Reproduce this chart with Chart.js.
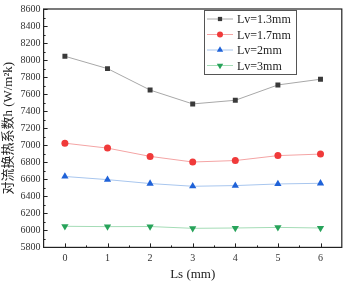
<!DOCTYPE html>
<html>
<head>
<meta charset="utf-8">
<script src="https://cdn.jsdelivr.net/npm/chart.js@4"></script>
<style>
  html, body { margin: 0; padding: 0; background: #fff; }
  #wrap { width: 346px; height: 283px; }
</style>
</head>
<body>
<div id="wrap"><canvas id="chart"></canvas></div>
<script>
const lsLabels = ['0', '1', '2', '3', '4', '5', '6'];
const lv13 = [8045, 7900, 7648, 7485, 7528, 7708, 7775];
const lv17 = [7024, 6966, 6869, 6803, 6820, 6878, 6896];
const lv2 = [6633, 6596, 6550, 6518, 6526, 6545, 6553];
const lv3 = [6048, 6044, 6045, 6024, 6028, 6035, 6028];
const seriesNames = ['Lv=1.3mm', 'Lv=1.7mm', 'Lv=2mm', 'Lv=3mm'];

const serif = '"Liberation Serif", "Times New Roman", "Noto Sans CJK SC", serif';

function ds(name, data, mark, line, style, radius, rot) {
  return {
    label: name,
    data: data,
    borderColor: line,
    backgroundColor: mark,
    pointBackgroundColor: mark,
    pointBorderColor: mark,
    pointBorderWidth: 0,
    pointStyle: style,
    pointRadius: radius,
    pointRotation: rot || 0,
    borderWidth: 1,
    tension: 0
  };
}

// box, inward ticks and legend drawn by hand
const frame = {
  id: 'frame',
  afterDatasetsDraw(chart) {
    const c = chart.ctx, a = chart.chartArea;
    const x = chart.scales.x, y = chart.scales.y;
    c.save();
    c.strokeStyle = '#222';
    c.lineWidth = 1;
    c.beginPath();
    // y ticks
    for (let v = 5800; v <= 8600; v += 100) {
      const py = Math.round(y.getPixelForValue(v)) + 0.5;
      const len = v % 200 === 0 ? 4 : 2;
      c.moveTo(a.left, py); c.lineTo(a.left + len, py);
    }
    // x ticks
    for (let i = 0; i < lsLabels.length; i++) {
      const px = Math.round(x.getPixelForValue(i)) + 0.5;
      c.moveTo(px, a.bottom); c.lineTo(px, a.bottom - 4);
      if (i < lsLabels.length - 1) {
        const hx = Math.round((x.getPixelForValue(i) + x.getPixelForValue(i + 1)) / 2) + 0.5;
        c.moveTo(hx, a.bottom); c.lineTo(hx, a.bottom - 2);
      }
    }
    c.stroke();
    c.lineWidth = 1.2;
    c.strokeRect(a.left, a.top, a.right - a.left, a.bottom - a.top);

    // legend
    const bx = 204, by = 10, bw = 92, bh = 64;
    c.fillStyle = '#fff';
    c.fillRect(bx, by, bw, bh);
    c.strokeStyle = '#555';
    c.lineWidth = 1;
    c.strokeRect(bx + 0.5, by + 0.5, bw, bh);
    c.font = '12px ' + serif;
    c.textBaseline = 'middle';
    chart.data.datasets.forEach((d, i) => {
      const ry = by + 9 + i * 15.5;
      c.strokeStyle = d.borderColor;
      c.lineWidth = 1;
      c.beginPath();
      c.moveTo(bx + 3, ry); c.lineTo(bx + 29, ry);
      c.stroke();
      c.fillStyle = d.pointBackgroundColor;
      c.strokeStyle = d.pointBorderColor;
      Chart.helpers.drawPoint(c, {
        pointStyle: d.pointStyle, radius: d.pointRadius - 0.5,
        rotation: d.pointRotation, borderWidth: 0
      }, bx + 16, ry);
      c.fillStyle = '#222';
      c.fillText(d.label, bx + 33, ry + 1);
    });
    c.restore();
  }
};

new Chart(document.getElementById('chart'), {
  type: 'line',
  data: {
    labels: lsLabels,
    datasets: [
      ds(seriesNames[0], lv13, '#3a3a3a', '#a8a8a8', 'rect', 3.5),
      ds(seriesNames[1], lv17, '#f03a3a', '#f4a4a4', 'circle', 3.5),
      ds(seriesNames[2], lv2, '#1f62d8', '#a8c6ee', 'triangle', 4.2),
      ds(seriesNames[3], lv3, '#27a35a', '#a4dcb6', 'triangle', 4.2, 180)
    ]
  },
  options: {
    responsive: true,
    maintainAspectRatio: false,
    animation: false,
    layout: { padding: { top: 0, right: 2, left: 1, bottom: 0 } },
    plugins: {
      legend: { display: false },
      tooltip: { enabled: false }
    },
    scales: {
      x: {
        type: 'category',
        offset: true,
        grid: { display: false, drawTicks: false },
        border: { display: false },
        ticks: { color: '#333', font: { family: serif, size: 10 }, padding: 5 },
        title: { display: true, text: 'Ls (mm)', color: '#222', font: { family: serif, size: 13 }, padding: { top: -3, bottom: 1 } }
      },
      y: {
        min: 5800,
        max: 8600,
        grid: { display: false, drawTicks: false },
        border: { display: false },
        ticks: { stepSize: 200, color: '#333', font: { family: serif, size: 10 }, padding: 3, callback: v => String(v) },
        title: { display: true, text: '对流换热系数h (W/m²k)', color: '#222', font: { family: serif, size: 13 }, padding: { top: 0, bottom: 1 } }
      }
    }
  },
  plugins: [frame]
});
</script>
</body>
</html>
